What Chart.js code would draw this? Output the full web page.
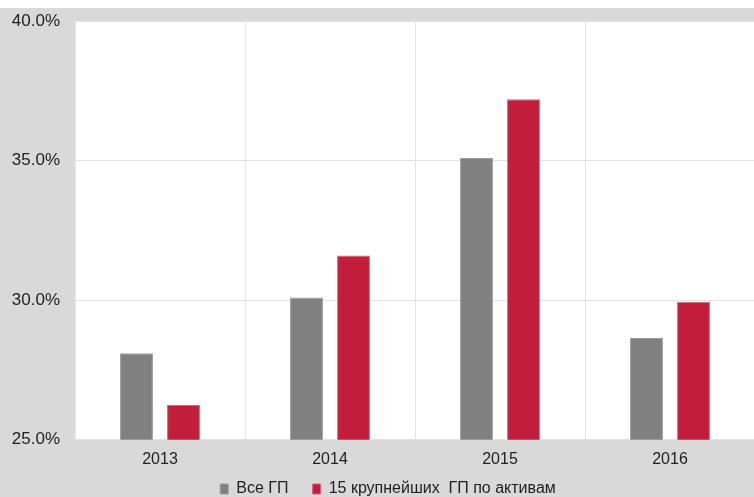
<!DOCTYPE html>
<html>
<head>
<meta charset="utf-8">
<script src="https://cdn.jsdelivr.net/npm/chart.js@4/dist/chart.umd.min.js"></script>
<style>
  html, body { margin: 0; padding: 0; background: #fff; overflow: hidden; }
  #wrap { position: absolute; left: 0; top: 8px; width: 754px; height: 489px; background: #d9d9d9; overflow: hidden; }
  #chart { position: absolute; left: 0; top: -12px; }
</style>
</head>
<body>
<div id="wrap"><canvas id="chart" width="776" height="511"></canvas></div>
<script>
const years = ['2013', '2014', '2015', '2016'];
const allFunds = [28.1, 30.1, 35.1, 28.65];
const top15 = [26.25, 31.6, 37.2, 29.95];
const yTicks = [25, 30, 35, 40];
const seriesNames = ['Все ГП', '15 крупнейших  ГП по активам'];

const whiteArea = {
    id: 'whiteArea',
    beforeDraw(chart) {
        const { ctx, chartArea: a } = chart;
        ctx.save();
        ctx.fillStyle = '#ffffff';
        ctx.fillRect(a.left, a.top, a.right - a.left, a.bottom - a.top);
        ctx.restore();
    }
};

Chart.defaults.font.family = '"Liberation Sans", Arial, sans-serif';
Chart.defaults.color = '#222';

new Chart(document.getElementById('chart').getContext('2d'), {
    type: 'bar',
    data: {
        labels: years,
        datasets: [
            {
                // trailing spaces widen the gap between legend items
                label: seriesNames[0] + '\u00a0\u00a0\u00a0\u00a0\u00a0',
                data: allFunds,
                backgroundColor: '#808080',
                borderColor: '#9a9a9a',
                borderWidth: 1,
            },
            {
                label: seriesNames[1],
                data: top15,
                backgroundColor: '#c21e3b',
                borderColor: '#d46577',
                borderWidth: 1,
            }
        ]
    },
    options: {
        responsive: false,
        animation: false,
        layout: { padding: { top: 5, right: 0, left: 0, bottom: 0 } },
        datasets: {
            bar: { categoryPercentage: 0.553, barPercentage: 0.70 }
        },
        scales: {
            x: {
                grid: { color: '#e6e6e6', drawTicks: false, offset: true },
                border: { display: false },
                ticks: { font: { size: 16 }, padding: 10, color: '#222' }
            },
            y: {
                min: 25,
                max: 40,
                afterFit: (s) => { s.width = 75; },
                afterBuildTicks: (s) => { s.ticks = yTicks.map(v => ({ value: v })); },
                grid: { color: '#e3e3e3', drawTicks: false },
                border: { display: false },
                ticks: {
                    font: { size: 17 },
                    padding: 15,
                    color: '#222',
                    callback: (v) => v.toFixed(1) + '%'
                }
            },
            // empty right margin (off-screen in the cropped picture)
            yRight: {
                position: 'right',
                afterFit: (s) => { s.width = 21; },
                grid: { display: false },
                border: { display: false },
                ticks: { display: false }
            }
        },
        plugins: {
            legend: {
                position: 'bottom',
                labels: {
                    boxWidth: 8,
                    boxHeight: 10,
                    padding: 2,
                    font: { size: 16 },
                    color: '#222'
                }
            },
            tooltip: { enabled: false }
        }
    },
    plugins: [whiteArea]
});
</script>
</body>
</html>
